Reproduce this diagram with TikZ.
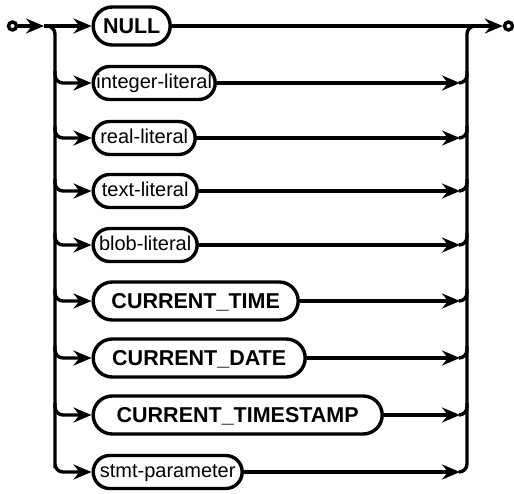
\documentclass[tikz,border=0pt]{standalone}
\usepackage{fontspec}
\setmainfont{Liberation Sans}
\usetikzlibrary{arrows.meta}
\begin{document}
\begin{tikzpicture}[x=1pt,y=-1pt,line width=3.4pt,
  box/.style={draw,rounded corners=16.5pt,minimum height=33pt,inner sep=0pt,anchor=west,
    text height=14pt,text depth=4pt,font=\fontsize{20}{24}\selectfont},
  kbox/.style={draw,rounded corners=19pt,minimum height=38pt,inner sep=0pt,anchor=west,
    text height=15.5pt,text depth=1pt,font=\fontsize{21.5}{26}\selectfont\bfseries},
  arr/.style={-{Stealth[length=18pt,width=15pt,inset=6pt]}},
  rr/.style={rounded corners=8pt},
  term/.style={circle,draw,minimum size=8pt,inner sep=0pt}]
\useasboundingbox (0,0) rectangle (514,493);
% terminals
\node[term] (start) at (12.5,26) {};
\node[term] (end) at (508.5,26) {};
% boxes
\node[kbox,minimum width=77pt]  (null) at (91.5,26) {NULL};
\node[box,minimum width=122pt]  (int)  at (91.5,83) {integer-literal};
\node[box,minimum width=102pt]  (real) at (91.5,138) {real-literal};
\node[box,minimum width=104pt]  (text) at (91.5,191) {text-literal};
\node[box,minimum width=104pt]  (blob) at (91.5,245) {blob-literal};
\node[kbox,minimum width=205pt] (ct)   at (91.5,301) {CURRENT\_TIME};
\node[kbox,minimum width=212pt] (cd)   at (91.5,358) {CURRENT\_DATE};
\node[kbox,minimum width=289pt] (cts)  at (91.5,415) {CURRENT\_TIMESTAMP};
\node[box,minimum width=149pt]  (stmt) at (91.5,472) {stmt-parameter};
% coordinates
\coordinate (a1) at (44,26);
\coordinate (split) at (45,26);
\coordinate (lstmt) at (55,460);
\coordinate (rstmt) at (460,472);
\coordinate (rjoin) at (467,26);
\coordinate (rend) at (478,26);
% entry and exit
\draw[arr] (start) -- (a1);
\draw[arr] (a1) -- (null.west);
\draw[arr] (null.east) -- (end.west);
% left rail and bottom branch
\draw[arr,rr] (split) -| (lstmt) |- (stmt.west);
% right rail
\draw[arr] (stmt.east) -- (rstmt);
\draw[rr] (rstmt) -| (rjoin) -- (rend);
% middle rows
\foreach \n/\y in {int/83,real/138,text/191,blob/245,ct/301,cd/358,cts/415}{
  \coordinate (l\n) at (55,\y-12);
  \coordinate (r\n) at (460,\y);
  \coordinate (u\n) at (467,\y-12);
  \draw[arr,rr] (l\n) |- (\n.west);
  \draw[arr] (\n.east) -- (r\n);
  \draw[rr] (r\n) -| (u\n);
}
\end{tikzpicture}
\end{document}
